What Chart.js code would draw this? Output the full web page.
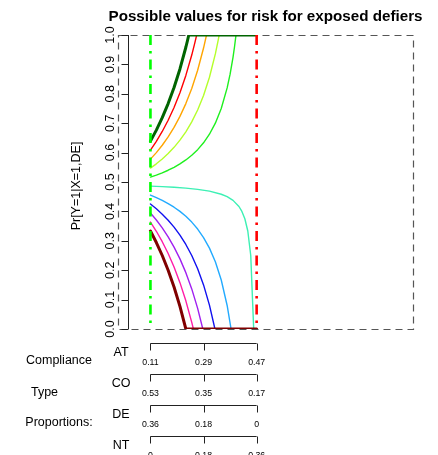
<!DOCTYPE html>
<html><head><meta charset="utf-8">
<script src="https://cdn.jsdelivr.net/npm/chart.js@4/dist/chart.umd.min.js"></script>
<style>html,body{margin:0;padding:0;background:#fff;overflow:hidden}canvas{display:block}</style>
</head><body>
<canvas id="c" width="438" height="455"></canvas>
<script>
// ---------- text ----------
const titleText = "Possible values for risk for exposed defiers";
const yTitle = "Pr[Y=1|X=1,DE]";
const yTicks = [0, 0.1, 0.2, 0.3, 0.4, 0.5, 0.6, 0.7, 0.8, 0.9, 1.0];
const yTickLabels = ["0.0","0.1","0.2","0.3","0.4","0.5","0.6","0.7","0.8","0.9","1.0"];
const groupLabels = ["Compliance", "Type", "Proportions:"];
const typeNames = ["AT", "CO", "DE", "NT"];
const atTickValues = [0.11, 0.29, 0.47];
const atLabels = ["0.11", "0.29", "0.47"];
const coLabels = ["0.53", "0.35", "0.17"];
const deLabels = ["0.36", "0.18", "0"];
const ntLabels = ["0", "0.18", "0.36"];
const boundLow = 0.11, boundHigh = 0.47;

// ---------- curves: x = proportion of always-takers, y = risk for exposed defiers ----------
const riskATvalues = [0, 0.1, 0.2, 0.3, 0.4, 0.5, 0.6, 0.7, 0.8, 0.9, 1.0];
const c0_at   = [0.11,0.13,0.15,0.17,0.19,0.21,0.23,0.235,0.24,0.47];
const c0_risk = [0.6389,0.6765,0.7188,0.7667,0.8214,0.8846,0.9583,0.9787,1,1];
const c1_at   = [0.11,0.13,0.15,0.17,0.19,0.21,0.23,0.25,0.26,0.2667,0.47];
const c1_risk = [0.6083,0.6382,0.6719,0.71,0.7536,0.8038,0.8625,0.9318,0.9714,1,1];
const c2_at   = [0.11,0.13,0.15,0.17,0.19,0.21,0.23,0.25,0.27,0.29,0.30,0.47];
const c2_risk = [0.5778,0.6,0.625,0.6533,0.6857,0.7231,0.7667,0.8182,0.88,0.9556,1,1];
const c3_at   = [0.11,0.13,0.15,0.17,0.19,0.21,0.23,0.25,0.27,0.29,0.31,0.33,0.34,0.3429,0.47];
const c3_risk = [0.5472,0.5618,0.5781,0.5967,0.6179,0.6423,0.6708,0.7045,0.745,0.7944,0.8563,0.9357,0.9846,1,1];
const c4_at   = [0.11,0.13,0.15,0.17,0.19,0.21,0.23,0.25,0.27,0.29,0.31,0.33,0.35,0.37,0.38,0.39,0.395,0.40,0.47];
const c4_risk = [0.5167,0.5235,0.5313,0.54,0.55,0.5615,0.575,0.5909,0.61,0.6333,0.6625,0.7,0.75,0.82,0.8667,0.925,0.96,1,1];
const c5_at   = [0.11,0.15,0.19,0.23,0.27,0.31,0.35,0.37,0.39,0.41,0.42,0.43,0.44,0.45,0.46,0.47];
const c5_risk = [0.4861,0.4844,0.4821,0.4792,0.475,0.4688,0.4583,0.45,0.4375,0.4167,0.4,0.375,0.3333,0.25,0,0];
const c6_at   = [0.11,0.13,0.15,0.17,0.19,0.21,0.23,0.25,0.27,0.29,0.31,0.33,0.35,0.37,0.3833,0.47];
const c6_risk = [0.4556,0.4471,0.4375,0.4267,0.4143,0.4,0.3833,0.3636,0.34,0.3111,0.275,0.2286,0.1667,0.08,0,0];
const c7_at   = [0.11,0.13,0.15,0.17,0.19,0.21,0.23,0.25,0.27,0.29,0.31,0.3286,0.47];
const c7_risk = [0.425,0.4088,0.3906,0.37,0.3464,0.3192,0.2875,0.25,0.205,0.15,0.0813,0,0];
const c8_at   = [0.11,0.13,0.15,0.17,0.19,0.21,0.23,0.25,0.27,0.2875,0.47];
const c8_risk = [0.3944,0.3706,0.3438,0.3133,0.2786,0.2385,0.1917,0.1364,0.07,0,0];
const c9_at   = [0.11,0.13,0.15,0.17,0.19,0.21,0.23,0.25,0.2556,0.47];
const c9_risk = [0.3639,0.3324,0.2969,0.2567,0.2107,0.1577,0.0958,0.0227,0,0];
const c10_at   = [0.11,0.13,0.15,0.17,0.19,0.21,0.23,0.47];
const c10_risk = [0.3333,0.2941,0.25,0.2,0.1429,0.0769,0,0];

// ---------- styles ----------
const curveColors = ['#006400','#FF0000','#FFA500','#B4FF2A','#1EF01E','#3CF0B4','#22AAFF','#1010F0','#A020F0','#FF1CA8','#800000'];
const curveWidths = [3, 1.4, 1.4, 1.4, 1.4, 1.4, 1.4, 1.4, 1.4, 1.4, 3];
const FONT = '"Liberation Sans", Arial, Helvetica, sans-serif';

const xsArr = [c0_at,c1_at,c2_at,c3_at,c4_at,c5_at,c6_at,c7_at,c8_at,c9_at,c10_at];
const ysArr = [c0_risk,c1_risk,c2_risk,c3_risk,c4_risk,c5_risk,c6_risk,c7_risk,c8_risk,c9_risk,c10_risk];

const datasets = riskATvalues.map((r, i) => ({
  label: 'Pr[Y=1|X=1,AT] = ' + r,
  data: xsArr[i].map((xv, j) => ({x: xv, y: ysArr[i][j]})),
  borderColor: curveColors[i],
  borderWidth: curveWidths[i],
  pointRadius: 0,
  tension: 0,
  fill: false,
  borderCapStyle: 'round',
  borderJoinStyle: 'round',
  order: curveWidths[i] > 2 ? 0 : 1
}));

const overlay = {
  id: 'overlay',
  beforeDatasetsDraw(chart) {
    const {ctx, chartArea: a} = chart;
    ctx.save();
    ctx.strokeStyle = '#555';
    ctx.lineWidth = 1.2;
    ctx.setLineDash([7, 5]);
    ctx.strokeRect(a.left + 0.5, a.top + 0.5, a.right - a.left, a.bottom - a.top);
    ctx.restore();
  },
  afterDatasetsDraw(chart) {
    const {ctx, chartArea: a, scales} = chart;
    const X = v => scales.x.getPixelForValue(v);
    const Y = v => scales.y.getPixelForValue(v);
    ctx.save();
    // bound lines
    [[boundLow, '#00FF00'], [boundHigh, '#FF0000']].forEach(([v, col]) => {
      ctx.strokeStyle = col;
      ctx.lineWidth = 2.6;
      ctx.setLineDash([10, 6, 2.5, 6]);
      ctx.beginPath();
      ctx.moveTo(X(v), Y(1));
      ctx.lineTo(X(v), Y(0));
      ctx.stroke();
    });
    ctx.setLineDash([]);
    // y axis
    const ax = Math.round(a.left + 10) + 0.5;
    ctx.strokeStyle = '#222';
    ctx.lineWidth = 1;
    ctx.beginPath();
    ctx.moveTo(ax, Math.round(Y(0)));
    ctx.lineTo(ax, Math.round(Y(1)));
    yTicks.forEach(t => {
      const py = Math.round(Y(t)) + 0.5;
      ctx.moveTo(ax - 7, py);
      ctx.lineTo(ax, py);
    });
    ctx.stroke();
    ctx.fillStyle = '#000';
    ctx.font = '12.5px ' + FONT;
    ctx.textAlign = 'center';
    ctx.textBaseline = 'alphabetic';
    yTicks.forEach((t, i) => {
      ctx.save();
      ctx.translate(ax - 15, Y(t));
      ctx.rotate(-Math.PI / 2);
      ctx.fillText(yTickLabels[i], 0, 0);
      ctx.restore();
    });
    // y title
    ctx.save();
    ctx.translate(80, (Y(0) + Y(1)) / 2 + 4);
    ctx.rotate(-Math.PI / 2);
    ctx.fillText(yTitle, 0, 0);
    ctx.restore();
    // main title
    ctx.font = 'bold 15.2px ' + FONT;
    ctx.fillText(titleText, (a.left + a.right) / 2, 20.5);
    // proportion axes
    const rows = [atLabels, coLabels, deLabels, ntLabels];
    rows.forEach((labs, i) => {
      const ly = Math.round(a.bottom + 14 + i * 31) + 0.5;
      ctx.strokeStyle = '#222';
      ctx.lineWidth = 1;
      ctx.beginPath();
      ctx.moveTo(X(atTickValues[0]), ly);
      ctx.lineTo(X(atTickValues[atTickValues.length - 1]), ly);
      atTickValues.forEach(v => {
        const px = Math.round(X(v)) + 0.5;
        ctx.moveTo(px, ly);
        ctx.lineTo(px, ly + 7);
      });
      ctx.stroke();
      ctx.font = '8.75px ' + FONT;
      ctx.textAlign = 'center';
      labs.forEach((l, j) => ctx.fillText(l, X(atTickValues[j]), ly + 21.5));
      ctx.font = '12.5px ' + FONT;
      ctx.fillText(typeNames[i], a.left + 3, ly + 12.5);
    });
    ctx.font = '12.5px ' + FONT;
    ctx.fillText(groupLabels[0], 59, a.bottom + 35);
    ctx.fillText(groupLabels[1], 44.5, a.bottom + 66.5);
    ctx.fillText(groupLabels[2], 59, a.bottom + 97);
    ctx.restore();
  }
};

new Chart(document.getElementById('c'), {
  type: 'line',
  data: { datasets },
  options: {
    responsive: false,
    devicePixelRatio: 1,
    animation: false,
    parsing: true,
    layout: { padding: { left: 118, top: 35, right: 25, bottom: 126 } },
    scales: {
      x: { type: 'linear', min: 0, max: 1, display: false },
      y: { type: 'linear', min: 0, max: 1, display: false }
    },
    plugins: { legend: { display: false }, tooltip: { enabled: false }, title: { display: false } }
  },
  plugins: [overlay]
});
</script>
</body></html>
